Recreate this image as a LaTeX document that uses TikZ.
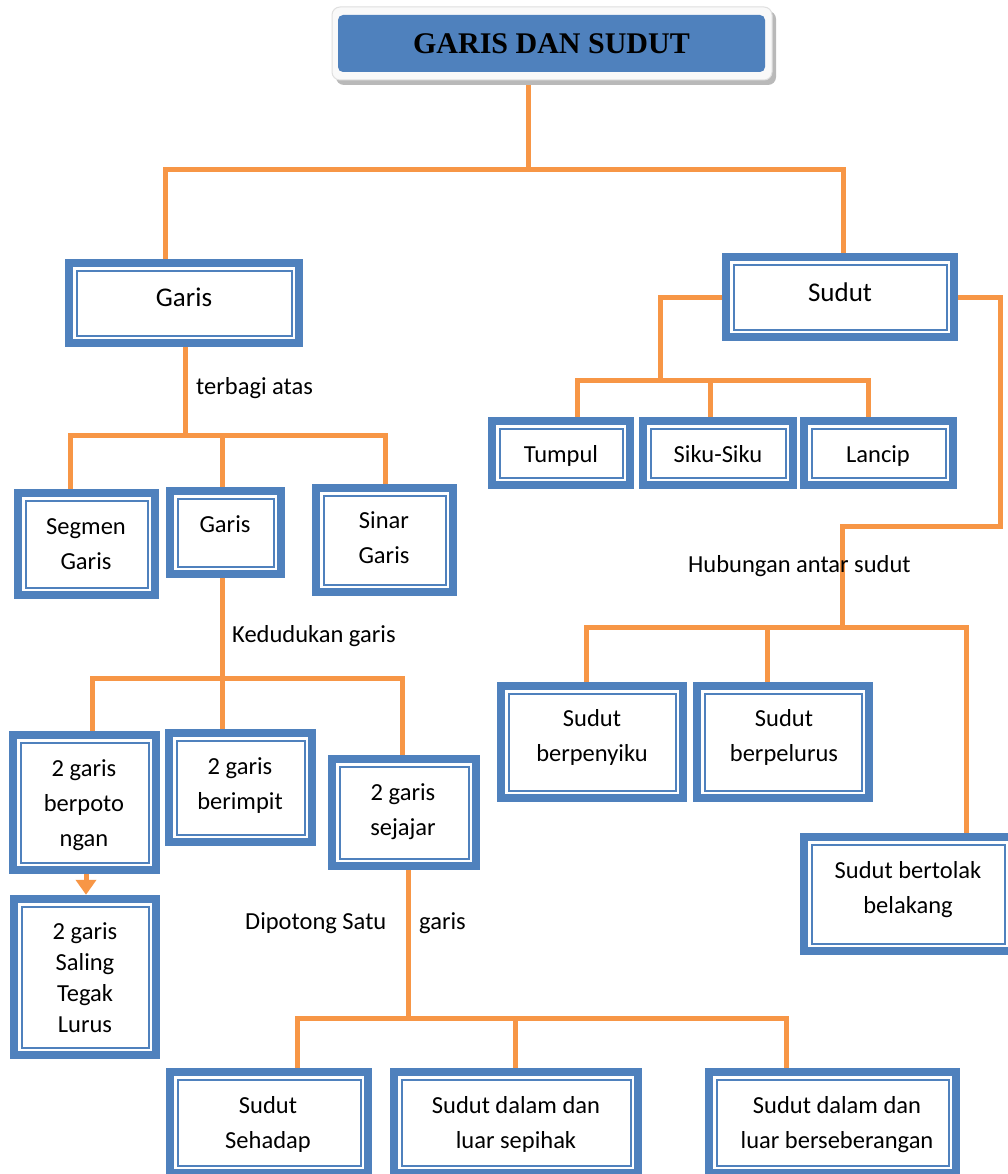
\documentclass[tikz,border=0pt]{standalone}
\usepackage{fontspec}
\setmainfont{Carlito}
\newfontfamily\titlefont{Liberation Serif}
\usetikzlibrary{calc,arrows.meta}
\pgfdeclarelayer{background}
\pgfsetlayers{background,main}
\definecolor{boxblue}{HTML}{4F81BD}
\definecolor{conorange}{HTML}{F79646}
\newcommand\sv{\vphantom{bdgq}}
\newcommand\dbox[5]{%
  \node[dbx, minimum width={#4-#2}, minimum height={#5-#3}] (#1) at ({(#2+#4)/2},{(#3+#5)/2}) {};
  \fill[white] ({#2+8},{#3+8}) rectangle ({#4-8},{#5-8});
  \draw[boxblue, line width=2pt] ({#2+11.5},{#3+11.5}) rectangle ({#4-11.5},{#5-11.5});
}
\begin{document}
\begin{tikzpicture}[x=1pt, y=-1pt,
  txt/.style={font=\fontsize{24.5}{35}\selectfont, align=center, inner sep=0pt, text=black},
  big/.style={font=\fontsize{27}{33}\selectfont, inner sep=0pt, text=black},
  conn/.style={draw=conorange, line width=5pt, line join=miter},
  dbx/.style={rectangle, fill=boxblue, draw=none, inner sep=0pt},
  titlebox/.style={rectangle, rounded corners=5pt, fill=boxblue, inner sep=0pt,
    minimum width=427pt, minimum height=57pt,
    font=\titlefont\bfseries\fontsize{30}{36}\selectfont, text=black}]
\useasboundingbox (0,0) rectangle (1008,1174);
\clip (0,0) rectangle (1008,1174);

% title
\fill[gray!55, rounded corners=8pt] (336,11) rectangle (776,85);
\filldraw[fill=gray!5, draw=gray!25, line width=1pt, rounded corners=8pt] (332,7) rectangle (772,80);
\node[titlebox] (title) at (551.5,43.5) {GARIS DAN SUDUT};

% boxes
\dbox{garis}{65}{259}{303}{347}
\dbox{sudut}{722}{253}{958}{341}
\dbox{segmen}{14}{489}{159}{599}
\dbox{garisb}{166}{487}{285}{578}
\dbox{sinar}{312}{484}{457}{596}
\dbox{tumpul}{488}{417}{634}{489}
\dbox{siku}{639}{417}{797}{489}
\dbox{lancip}{800}{417}{957}{489}
\dbox{berpot}{9}{731}{160}{874}
\dbox{tegak}{10}{895}{160}{1059}
\dbox{berimpit}{165}{729}{316}{846}
\dbox{sejajar}{328}{755}{480}{870}
\dbox{penyiku}{497}{682}{687}{802}
\dbox{pelurus}{693}{682}{873}{802}
\dbox{tolak}{800}{833}{1016}{955}
\dbox{sehadap}{166}{1068}{372}{1177}
\dbox{sepihak}{390}{1068}{642}{1177}
\dbox{seberang}{705}{1068}{960}{1177}

% box texts
\node[big] (garis-t) at (184,299) {\sv Garis};
\node[big] (sudut-t) at (840,294) {\sv Sudut};
\node[txt] (segmen-t) at (86,546) {\sv Segmen\\\sv Garis};
\node[txt] (garisb-t) at (225,526) {\sv Garis};
\node[txt] (sinar-t) at (384,540) {\sv Sinar\\\sv Garis};
\node[txt] (tumpul-t) at (561,456) {\sv Tumpul};
\node[txt] (siku-t) at (718,456) {\sv Siku-Siku};
\node[txt] (lancip-t) at (878,456) {\sv Lancip};
\node[txt] (berpot-t) at (84,805) {\sv 2 garis\\\sv berpoto\\\sv ngan};
\node[txt, font=\fontsize{24.5}{31}\selectfont] (tegak-t) at (85,980) {\sv 2 garis\\\sv Saling\\\sv Tegak\\\sv Lurus};
\node[txt] (berimpit-t) at (240,786) {\sv 2 garis\\\sv berimpit};
\node[txt] (sejajar-t) at (403,812) {\sv 2 garis\\\sv sejajar};
\node[txt] (penyiku-t) at (592,738) {\sv Sudut\\\sv berpenyiku};
\node[txt] (pelurus-t) at (784,738) {\sv Sudut\\\sv berpelurus};
\node[txt] (tolak-t) at (908,890) {\sv Sudut bertolak\\\sv belakang};
\node[txt] (sehadap-t) at (268,1125) {\sv Sudut\\\sv Sehadap};
\node[txt] (sepihak-t) at (516,1125) {\sv Sudut dalam dan\\\sv luar sepihak};
\node[txt] (seberang-t) at (837,1125) {\sv Sudut dalam dan\\\sv luar berseberangan};

% connector labels
\node[txt, anchor=west] (lbl1) at (196,388) {\sv terbagi atas};
\node[txt, anchor=west] (lbl2) at (232,636) {\sv Kedudukan garis};
\node[txt, anchor=west] (lbl3) at (245,923) {\sv Dipotong Satu};
\node[txt, anchor=west] (lbl4) at (419,923) {\sv garis};
\node[txt, anchor=west] (lbl5) at (688,566) {\sv Hubungan antar sudut};

% arrow
\draw[conn, -{Triangle[width=20pt,length=15pt]}] (berpot.south -| 86,0) -- (tegak.north -| 86,0);

% connectors
\begin{pgfonlayer}{background}
\fill[white] (0,0) rectangle (1008,1174);
\draw[conn] (title.south -| 528,0) -- (528,170);
\draw[conn] (garis.north -| 165,0) -- (165,170) -- (843,170) -- (sudut.north -| 843,0);
\draw[conn] (garis.south -| 185,0) -- (185,435);
\draw[conn] (segmen.north -| 70,0) -- (70,435) -- (385,435) -- (sinar.north -| 385,0);
\draw[conn] (garisb.north -| 222,0) -- (222,435);
\draw[conn] (garisb.south -| 222,0) -- (222,678);
\draw[conn] (berpot.north -| 92,0) -- (92,678) -- (402,678) -- (sejajar.north -| 402,0);
\draw[conn] (berimpit.north -| 222,0) -- (222,678);
\draw[conn] (sejajar.south -| 408,0) -- (408,1018);
\draw[conn] (sehadap.north -| 297,0) -- (297,1018) -- (786,1018) -- (seberang.north -| 786,0);
\draw[conn] (sepihak.north -| 515,0) -- (515,1018);
\draw[conn] (sudut.west |- 0,297) -- (660,297) -- (660,380);
\draw[conn] (tumpul.north -| 577,0) -- (577,380) -- (868,380) -- (lancip.north -| 868,0);
\draw[conn] (siku.north -| 710,0) -- (710,380);
\draw[conn] (sudut.east |- 0,297) -- (1000,297) -- (1000,526) -- (842,526) -- (842,627);
\draw[conn] (penyiku.north -| 586,0) -- (586,627) -- (966,627) -- (tolak.north -| 966,0);
\draw[conn] (pelurus.north -| 767,0) -- (767,627);
\end{pgfonlayer}
\end{tikzpicture}
\end{document}
